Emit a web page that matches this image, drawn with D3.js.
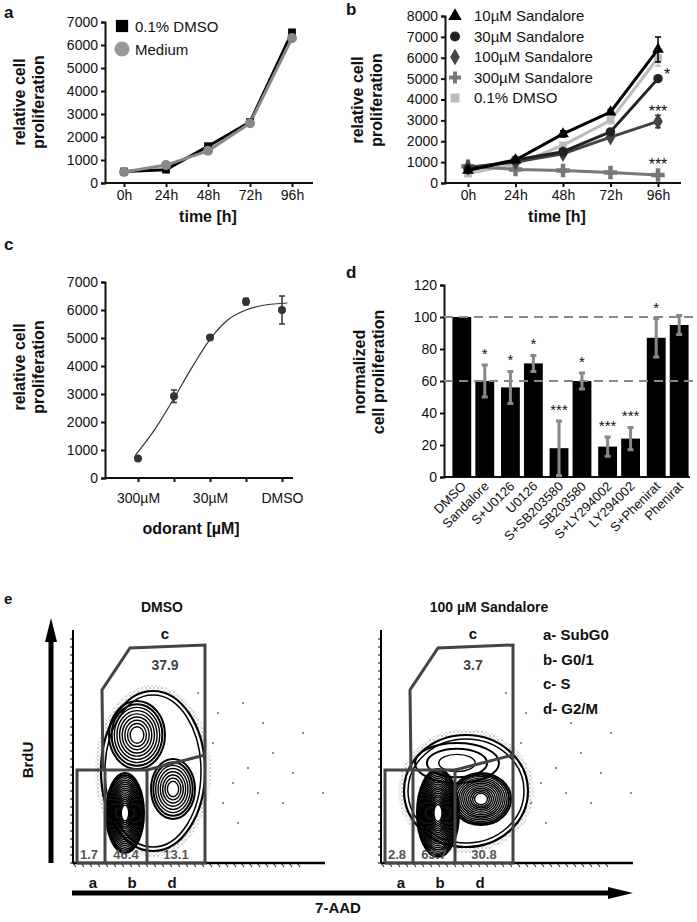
<!DOCTYPE html>
<html><head><meta charset="utf-8">
<script src="https://cdn.jsdelivr.net/npm/d3@7"></script>
<style>body{margin:0;background:#fff}svg{font-family:"Liberation Sans",Arial,sans-serif}</style>
</head><body><svg id="s" width="697" height="922"></svg>
<script>
// ---------- DATA ----------
const timeLabels = ["0h","24h","48h","72h","96h"];
const aDMSO   = [500, 580, 1600, 2650, 6550];
const aMedium = [480, 780, 1400, 2600, 6300];
const aTicks = [0,1000,2000,3000,4000,5000,6000,7000];

const bNames = ["10µM Sandalore","30µM Sandalore","100µM Sandalore","300µM Sandalore","0.1% DMSO"];
const b10  = [600, 1100, 2350, 3400, 6400];
const b30  = [650, 1100, 1500, 2450, 5000];
const b100 = [750, 1000, 1400, 2200, 2950];
const b300 = [800, 650, 600, 500, 380];
const bDMSO= [450, 900, 1800, 3000, 6000];
const b10Err=[50,80,150,120,600], b30Err=[50,60,100,100,100], b100Err=[50,60,100,100,300], b300Err=[50,50,50,50,60], bDMSOErr=[40,60,100,150,400];
const bTicks=[0,1000,2000,3000,4000,5000,6000,7000,8000];

const cCats = ["300µM","100µM","30µM","10µM","DMSO"];
const cTickLabels = ["300µM","","30µM","","DMSO"];
const cVals = [700, 2920, 5020, 6300, 6000];
const cErr  = [60, 220, 60, 120, 500];
const cFitX = [-0.08, 0.5, 1, 1.5, 2, 2.5, 3, 3.5, 4.15];
const cFitY = [800, 1800, 2850, 3950, 4950, 5650, 6000, 6170, 6250];

const dCats = ["DMSO","Sandalore","S+U0126","U0126","S+SB203580","SB203580","S+LY294002","LY294002","S+Phenirat","Phenirat"];
const dVals = [100, 60, 56, 71, 18, 60, 19, 24, 87, 95];
const dErr  = [0, 10, 10, 5, 17, 5, 6, 7, 12, 6];
const dStars= ["","*","*","*","***","*","***","***","*",""];
const dTicks=[0,20,40,60,80,100,120];
const dRefLines=[100,60];

const eTitles=["DMSO","100 µM Sandalore"];
const eGatePct=[["1.7","46.4","37.9","13.1"],["2.8","63.7","3.7","30.8"]];
const eLegend=["a- SubG0","b- G0/1","c- S","d- G2/M"];
// contour clusters (local plot coords: x right, y up), rings
const eEnvelope=[{x:80,y:92,rx:52,ry:80},{x:85,y:72,rx:62,ry:56}];
const eClusters=[
 [{x:64,y:128,rx:28,ry:34,n:9},{x:100,y:74,rx:22,ry:30,n:8},{x:52,y:50,rx:19,ry:40,n:18}],
 [{x:76,y:100,rx:42,ry:20,n:3},{x:100,y:64,rx:30,ry:26,n:13},{x:57,y:50,rx:21,ry:44,n:20}]
];
const eDots=[[150,60],[160,80],[175,95],[185,70],[140,120],[200,110],[210,60],[220,90],[165,40],[230,130],[145,150],[190,140],[250,70],[125,170],[170,160]];

// ---------- HELPERS ----------
const svg=d3.select("#s");
const defs=svg.append("defs");
const pat=defs.append("pattern").attr("id","stip").attr("width",4).attr("height",4).attr("patternUnits","userSpaceOnUse");
pat.append("circle").attr("cx",1).attr("cy",1).attr("r",0.7).attr("fill","#000");
pat.append("circle").attr("cx",3).attr("cy",3).attr("r",0.5).attr("fill","#000");
function txt(x,y,s,o={},parent){const t=(parent||svg).append("text").attr("x",x).attr("y",y).text(s)
 .attr("font-size",o.size||14).attr("font-weight",o.bold?"bold":"normal").attr("text-anchor",o.anchor||"start").attr("fill",o.fill||"#111");
 if(o.rot!==undefined)t.attr("transform",`rotate(${o.rot},${x},${y})`);return t;}
function styleAxis(g,size){g.selectAll("path,line").attr("stroke","#111").attr("stroke-width",2);g.selectAll("text").attr("font-size",size||14).attr("fill","#111").attr("font-family","Liberation Sans, Arial");}
function sym(type,size){return d3.symbol().type(type).size(size)();}
function errBar(cx,lo,hi,c,w){svg.append("path").attr("d",`M${cx},${lo}V${hi}M${cx-3},${lo}H${cx+3}M${cx-3},${hi}H${cx+3}`).attr("stroke",c).attr("stroke-width",w);}

// ---------- PANEL A ----------
{
const x=d3.scalePoint().domain(timeLabels).range([124,292]);
const y=d3.scaleLinear().domain([0,7000]).range([183,22]);
const gy=svg.append("g").attr("transform","translate(105,0)").call(d3.axisLeft(y).tickValues(aTicks).tickSize(4).tickFormat(d3.format("d")));styleAxis(gy);
const gx=svg.append("g").attr("transform","translate(0,183)").call(d3.axisBottom(x).tickSize(4).tickSizeOuter(0));styleAxis(gx);
gx.select(".domain").attr("d","M105,0H313");
const ln=d3.line().x((d,i)=>x(timeLabels[i])).y(d=>y(d));
svg.append("path").attr("d",ln(aDMSO)).attr("fill","none").attr("stroke","#000").attr("stroke-width",3);
svg.append("path").attr("d",ln(aMedium)).attr("fill","none").attr("stroke","#888").attr("stroke-width",3);
aDMSO.forEach((v,i)=>svg.append("path").attr("d",sym(d3.symbolSquare,60)).attr("transform",`translate(${x(timeLabels[i])},${y(v)})`).attr("fill","#000"));
aMedium.forEach((v,i)=>svg.append("path").attr("d",sym(d3.symbolCircle,80)).attr("transform",`translate(${x(timeLabels[i])},${y(v)})`).attr("fill","#888"));
svg.append("path").attr("d",sym(d3.symbolSquare,150)).attr("transform","translate(122,26)").attr("fill","#000");
svg.append("path").attr("d",sym(d3.symbolCircle,180)).attr("transform","translate(122,49)").attr("fill","#999");
txt(135,32,"0.1% DMSO",{size:15});txt(135,55,"Medium",{size:15});
txt(208,222,"time [h]",{size:16,bold:true,anchor:"middle"});
txt(25,102,"relative cell",{size:16,bold:true,anchor:"middle",rot:-90});
txt(44,102,"proliferation",{size:16,bold:true,anchor:"middle",rot:-90});
txt(4,18,"a",{size:17,bold:true});
}
// ---------- PANEL B ----------
{
const x=d3.scalePoint().domain(timeLabels).range([468,658]);
const y=d3.scaleLinear().domain([0,8000]).range([183,16]);
const gy=svg.append("g").attr("transform","translate(445,0)").call(d3.axisLeft(y).tickValues(bTicks).tickSize(4).tickFormat(d3.format("d")));styleAxis(gy);
const gx=svg.append("g").attr("transform","translate(0,183)").call(d3.axisBottom(x).tickSize(4).tickSizeOuter(0));styleAxis(gx);
gx.select(".domain").attr("d","M445,0H681");
const series=[
 {v:bDMSO,e:bDMSOErr,c:"#bbb",s:d3.symbolSquare,z:60},
 {v:b300,e:b300Err,c:"#777",s:d3.symbolCross,z:100},
 {v:b100,e:b100Err,c:"#444",s:d3.symbolDiamond,z:80},
 {v:b30,e:b30Err,c:"#222",s:d3.symbolCircle,z:70},
 {v:b10,e:b10Err,c:"#000",s:d3.symbolTriangle,z:60}];
const ln=d3.line().x((d,i)=>x(timeLabels[i])).y(d=>y(d));
series.forEach(S=>{
 svg.append("path").attr("d",ln(S.v)).attr("fill","none").attr("stroke",S.c).attr("stroke-width",3);
 S.v.forEach((v,i)=>{const cx=x(timeLabels[i]);
  errBar(cx,y(v-S.e[i]),y(v+S.e[i]),S.c,1.5);
  svg.append("path").attr("d",sym(S.s,S.z)).attr("transform",`translate(${cx},${y(v)})`).attr("fill",S.c);});
});
const leg=[{c:"#000",s:d3.symbolTriangle},{c:"#222",s:d3.symbolCircle},{c:"#444",s:d3.symbolDiamond},{c:"#777",s:d3.symbolCross},{c:"#bbb",s:d3.symbolSquare}];
bNames.forEach((n,i)=>{const yy=16+i*20.5;svg.append("path").attr("d",sym(leg[i].s,80)).attr("transform",`translate(455,${yy})`).attr("fill",leg[i].c);txt(474,yy+5,n,{size:15});});
txt(667,80,"*",{size:16,anchor:"middle"});
txt(658,117,"***",{size:16,anchor:"middle"});
txt(658,170,"***",{size:16,anchor:"middle"});
txt(557,222,"time [h]",{size:16,bold:true,anchor:"middle"});
txt(363,100,"relative cell",{size:16,bold:true,anchor:"middle",rot:-90});
txt(382,100,"proliferation",{size:16,bold:true,anchor:"middle",rot:-90});
txt(346,15,"b",{size:17,bold:true});
}
// ---------- PANEL C ----------
{
const x=d3.scaleLinear().domain([0,4]).range([138,282]);
const y=d3.scaleLinear().domain([0,7000]).range([478,282]);
const gy=svg.append("g").attr("transform","translate(105,0)").call(d3.axisLeft(y).tickValues(aTicks).tickSize(4).tickFormat(d3.format("d")));styleAxis(gy);
const gx=svg.append("g").attr("transform","translate(0,478)").call(d3.axisBottom(x).tickValues([0,1,2,3,4]).tickSize(4).tickSizeOuter(0).tickFormat(i=>cTickLabels[i]));styleAxis(gx);
gx.selectAll("text").attr("dy","1.3em");
gx.select(".domain").attr("d","M105,0H293");
svg.append("path").attr("d",d3.line().x(d=>x(d[0])).y(d=>y(d[1])).curve(d3.curveMonotoneX)(cFitX.map((v,i)=>[v,cFitY[i]]))).attr("fill","none").attr("stroke","#333").attr("stroke-width",1.2);
cVals.forEach((v,i)=>{const cx=x(i);
 errBar(cx,y(v-cErr[i]),y(v+cErr[i]),"#333",1.5);
 svg.append("circle").attr("cx",cx).attr("cy",y(v)).attr("r",4).attr("fill","#333");});
txt(191,534,"odorant [µM]",{size:16,bold:true,anchor:"middle"});
txt(25,367,"relative cell",{size:16,bold:true,anchor:"middle",rot:-90});
txt(44,367,"proliferation",{size:16,bold:true,anchor:"middle",rot:-90});
txt(4,250,"c",{size:17,bold:true});
}
// ---------- PANEL D ----------
{
const groups=[0,1,2,3,4];
const xg=d3.scaleBand().domain(groups).range([449,692]);
const xi=d3.scaleBand().domain([0,1]).range([0,xg.bandwidth()*0.86]).paddingInner(0.18);
const off=xg.bandwidth()*0.07;
const y=d3.scaleLinear().domain([0,120]).range([477,285]);
const gy=svg.append("g").attr("transform","translate(444,0)").call(d3.axisLeft(y).tickValues(dTicks).tickSize(4));styleAxis(gy);
svg.append("path").attr("d","M444,477H690").attr("stroke","#111").attr("stroke-width",2);
const bx=i=>xg(Math.floor(i/2))+off+xi(i%2);
dVals.forEach((v,i)=>svg.append("rect").attr("x",bx(i)).attr("y",y(v)).attr("width",xi.bandwidth()).attr("height",y(0)-y(v)).attr("fill","#000"));
dRefLines.forEach(r=>svg.append("line").attr("x1",444).attr("x2",697).attr("y1",y(r)).attr("y2",y(r)).attr("stroke","#888").attr("stroke-width",2).attr("stroke-dasharray","9,6"));
dVals.forEach((v,i)=>{if(!dErr[i])return;const cx=bx(i)+xi.bandwidth()/2;
 errBar(cx,y(v-dErr[i]),y(v+dErr[i]),"#888",3);
 if(dStars[i])txt(cx,y(v+dErr[i])-6,dStars[i],{size:15,anchor:"middle"});});
dCats.forEach((c,i)=>{const cx=bx(i)+xi.bandwidth()/2+5;txt(cx,487,c,{size:13,anchor:"end",rot:-45});});
txt(365,372,"normalized",{size:16,bold:true,anchor:"middle",rot:-90});
txt(384,372,"cell proliferation",{size:16,bold:true,anchor:"middle",rot:-90});
txt(346,278,"d",{size:17,bold:true});
}
// ---------- PANEL E ----------
{
txt(4,604,"e",{size:15,bold:true});
svg.append("line").attr("x1",51).attr("y1",863).attr("x2",51).attr("y2",640).attr("stroke","#000").attr("stroke-width",5);
svg.append("path").attr("d","M51,618L45,642H57Z").attr("fill","#000");
svg.append("line").attr("x1",72).attr("y1",893).attr("x2",620).attr("y2",893).attr("stroke","#000").attr("stroke-width",5);
svg.append("path").attr("d","M633,893L608,887V899Z").attr("fill","#000");
txt(338,913,"7-AAD",{size:15,bold:true,anchor:"middle"});
txt(33,760,"BrdU",{size:15,bold:true,anchor:"middle",rot:-90});
const origins=[73,381];
const sy=d3.scaleLinear().domain([0,240]).range([0,-240]);
origins.forEach((ox,p)=>{
 const g=svg.append("g").attr("transform",`translate(${ox},863)`);
 const ticks=d3.range(0,232,8);
 g.append("path").attr("d",ticks.map(t=>`M0,${-t}h-3`).join("")+ticks.map(t=>`M${t},0l3,4`).join("")).attr("stroke","#000").attr("stroke-width",1);
 g.append("line").attr("x1",0).attr("y1",0).attr("x2",0).attr("y2",-233).attr("stroke","#000").attr("stroke-width",2);
 g.append("line").attr("x1",0).attr("y1",0).attr("x2",252).attr("y2",0).attr("stroke","#000").attr("stroke-width",2.5);
 eDots.forEach(d=>g.append("circle").attr("cx",d[0]).attr("cy",sy(d[1])).attr("r",0.8).attr("fill","#000"));
 const E=eEnvelope[p];
 g.append("ellipse").attr("cx",E.x).attr("cy",sy(E.y)).attr("rx",E.rx+6).attr("ry",E.ry+6).attr("fill","url(#stip)").attr("opacity",0.55);
 g.append("ellipse").attr("cx",E.x).attr("cy",sy(E.y)).attr("rx",E.rx).attr("ry",E.ry).attr("fill","#fff").attr("stroke","#000").attr("stroke-width",2.2);
 g.append("ellipse").attr("cx",E.x).attr("cy",sy(E.y)).attr("rx",E.rx-4).attr("ry",E.ry-4).attr("fill","none").attr("stroke","#000").attr("stroke-width",1.5);
 eClusters[p].forEach(c=>{for(let k=0;k<c.n;k++){const f=1-0.85*k/c.n;
   g.append("ellipse").attr("cx",c.x).attr("cy",sy(c.y)).attr("rx",c.rx*f).attr("ry",c.ry*f).attr("fill","none").attr("stroke","#000").attr("stroke-width",k<2?2:1.4);}});
 const gate=d=>g.append("path").attr("d",d).attr("fill","none").attr("stroke","#444").attr("stroke-width",3);
 gate(`M4,0V${sy(93)}H74V0`);
 gate(`M32,0V${sy(93)}`);
 gate(`M74,${sy(93)}L132,${sy(108)}`);
 gate(`M30,${sy(93)}L29,${sy(173)}L57,${sy(215)}L132,${sy(218)}V0H4`);
 const pc=eGatePct[p];
 const ls={size:13,bold:true,anchor:"middle",fill:"#555"};
 txt(16,-4,pc[0],ls,g);txt(53,-4,pc[1],ls,g);txt(103,-4,pc[3],ls,g);
 txt(92,sy(193),pc[2],{size:14,bold:true,anchor:"middle",fill:"#444"},g);
 txt(92,sy(224),"c",{size:15,bold:true,anchor:"middle"},g);
 const lb={size:15,bold:true,anchor:"middle"};
 txt(20,25,"a",lb,g);txt(59,25,"b",lb,g);txt(99,25,"d",lb,g);
 txt(p?489:162,612,eTitles[p],{size:14,bold:true,anchor:"middle"});
});
eLegend.forEach((l,i)=>txt(543,640+i*24.5,l,{size:15,bold:true}));
}
</script></body></html>
